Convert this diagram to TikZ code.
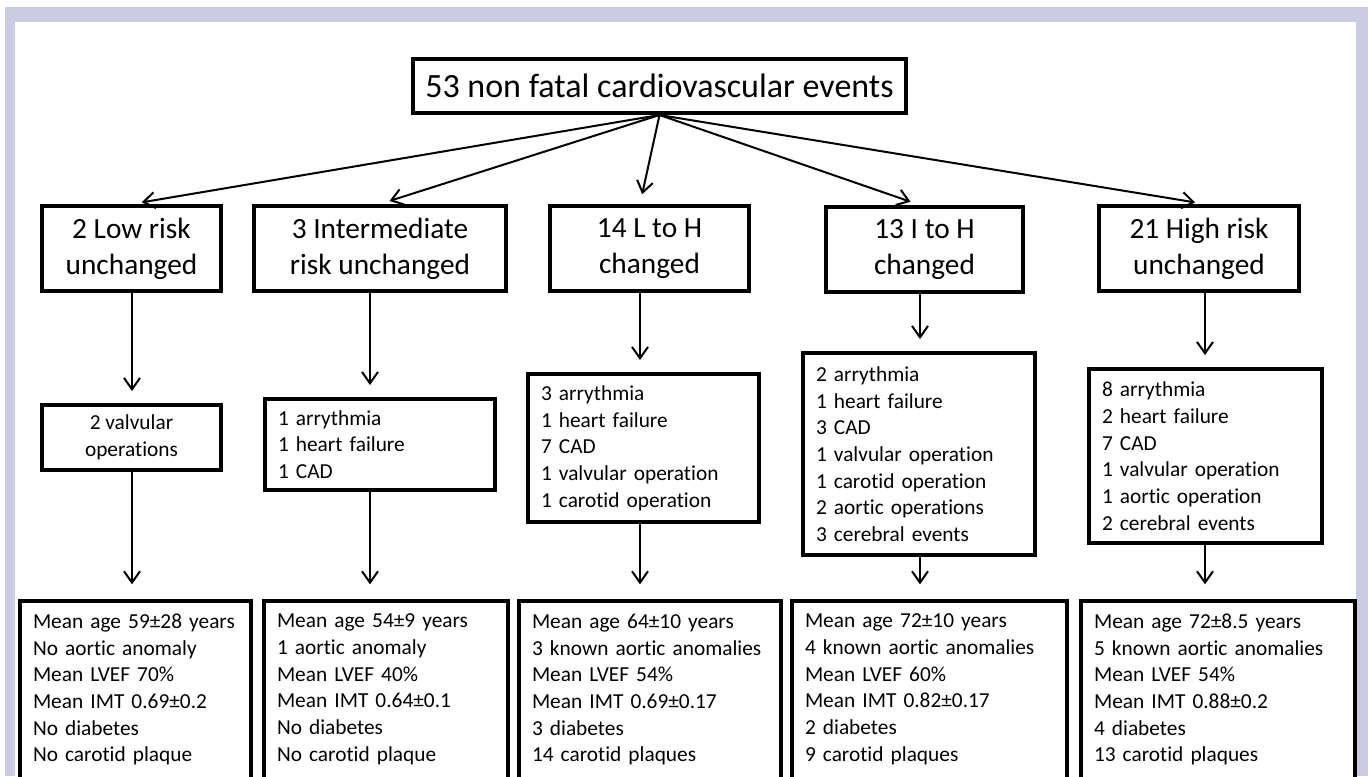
\documentclass[tikz,border=0pt]{standalone}
\usepackage{fontspec}
\setmainfont{Carlito}[Ligatures=NoCommon]
\usetikzlibrary{arrows.meta}
\definecolor{framecol}{RGB}{203,204,225}
\tikzset{
  box/.style={draw, line width=3pt, fill=white},
  head/.style={box, align=center, font=\fontsize{22pt}{27pt}\selectfont, minimum height=63.75pt, inner sep=0pt},
  list/.style={box, align=left, font=\fontsize{16pt}{20pt}\selectfont, inner xsep=9.75pt, inner ysep=0pt},
  stat/.style={list, anchor=north, inner ysep=9.75pt, text depth=150pt},
}
\begin{document}
\begin{tikzpicture}[x=0.75pt,y=-0.75pt,>={Straight Barb[length=8.5pt,width=12pt]}]
      \fill[white] (0,0) rectangle (1368,776);
      \fill[framecol] (5,7) rectangle (1368,776);
      \fill[white] (15,22) rectangle (1356,776);
      \clip (0,0) rectangle (1368,776);
      \draw
        (659.5,86) node[box, font=\fontsize{25.5pt}{30pt}\selectfont, minimum width=369.75pt, minimum height=40.5pt, inner sep=0pt] (top){53 non fatal cardiovascular events}
        (131.5,248.5) node[head, minimum width=134.25pt] (b1){2 Low risk\\unchanged}
        (380,248.5) node[head, minimum width=189pt] (b2){3 Intermediate\\risk unchanged}
        (649.5,248.5) node[head, minimum width=149.25pt] (b3){14 L to H\\changed}
        (924.5,249.5) node[head, minimum width=147.75pt] (b4){13 I to H\\changed}
        (1199,248.5) node[head, minimum width=150pt] (b5){21 High risk\\unchanged};
      \draw
        (131.5,437.5) node[list, align=center, minimum width=134.25pt, minimum height=48.75pt] (c1){2 valvular\\operations}
        (380,444.5) node[list, text width=153pt, minimum height=68.25pt] (c2){1 arrythmia\\1 heart failure\\1 CAD}
        (643.5,448) node[list, text width=153.75pt, minimum height=111pt] (c3){3 arrythmia\\1 heart failure\\7 CAD\\1 valvular operation\\1 carotid operation}
        (919,454) node[list, text width=154.5pt, minimum height=151.5pt] (c4){2 arrythmia\\1 heart failure\\3 CAD\\1 valvular operation\\1 carotid operation\\2 aortic operations\\3 cerebral events}
        (1205.5,456) node[list, text width=155.25pt, minimum height=130.5pt] (c5){8 arrythmia\\2 heart failure\\7 CAD\\1 valvular operation\\1 aortic operation\\2 cerebral events};
      \draw
        (135.5,599) node[stat, text width=153.75pt] (d1){Mean age 59±28 years\\No aortic anomaly\\Mean LVEF 70\%\\Mean IMT 0.69±0.2\\No diabetes\\No carotid plaque}
        (386,599) node[stat, text width=163.5pt] (d2){Mean age 54±9 years\\1 aortic anomaly\\Mean LVEF 40\%\\Mean IMT 0.64±0.1\\No diabetes\\No carotid plaque}
        (650,599) node[stat, text width=177pt] (d3){Mean age 64±10 years\\3 known aortic anomalies\\Mean LVEF 54\%\\Mean IMT 0.69±0.17\\3 diabetes\\14 carotid plaques}
        (929.5,599) node[stat, text width=186.75pt] (d4){Mean age 72±10 years\\4 known aortic anomalies\\Mean LVEF 60\%\\Mean IMT 0.82±0.17\\2 diabetes\\9 carotid plaques}
        (1218,599) node[stat, text width=186pt] (d5){Mean age 72±8.5 years\\5 known aortic anomalies\\Mean LVEF 54\%\\Mean IMT 0.88±0.2\\4 diabetes\\13 carotid plaques};
      % arrow columns
      \coordinate (x1) at (132,0);
      \coordinate (x2) at (370,0);
      \coordinate (x3) at (640,0);
      \coordinate (x4) at (920,0);
      \coordinate (x5) at (1205,0);
      \begin{scope}[->, line width=1.5pt, shorten >=7.5pt]
        \draw (top.south) to (b1.north -| x1);
        \draw (top.south) to (b2.north);
        \draw (top.south) to (b3.north -| x3);
        \draw (top.south) to (b4.north -| x4);
        \draw (top.south) to (b5.north -| x5);
      \end{scope}
      \begin{scope}[->, line width=1.5pt, shorten >=9pt]
        \draw (b1.south -| x1) to (c1.north -| x1);
        \draw (b2.south -| x2) to (c2.north -| x2);
        \draw (b3.south -| x3) to (c3.north -| x3);
        \draw (b4.south -| x4) to (c4.north -| x4);
        \draw (b5.south -| x5) to (c5.north -| x5);
      \end{scope}
      \begin{scope}[->, line width=1.5pt, shorten >=11pt]
        \draw (c1.south -| x1) to (d1.north -| x1);
        \draw (c2.south -| x2) to (d2.north -| x2);
        \draw (c3.south -| x3) to (d3.north -| x3);
        \draw (c4.south -| x4) to (d4.north -| x4);
        \draw (c5.south -| x5) to (d5.north -| x5);
      \end{scope}
    \end{tikzpicture}
\end{document}
